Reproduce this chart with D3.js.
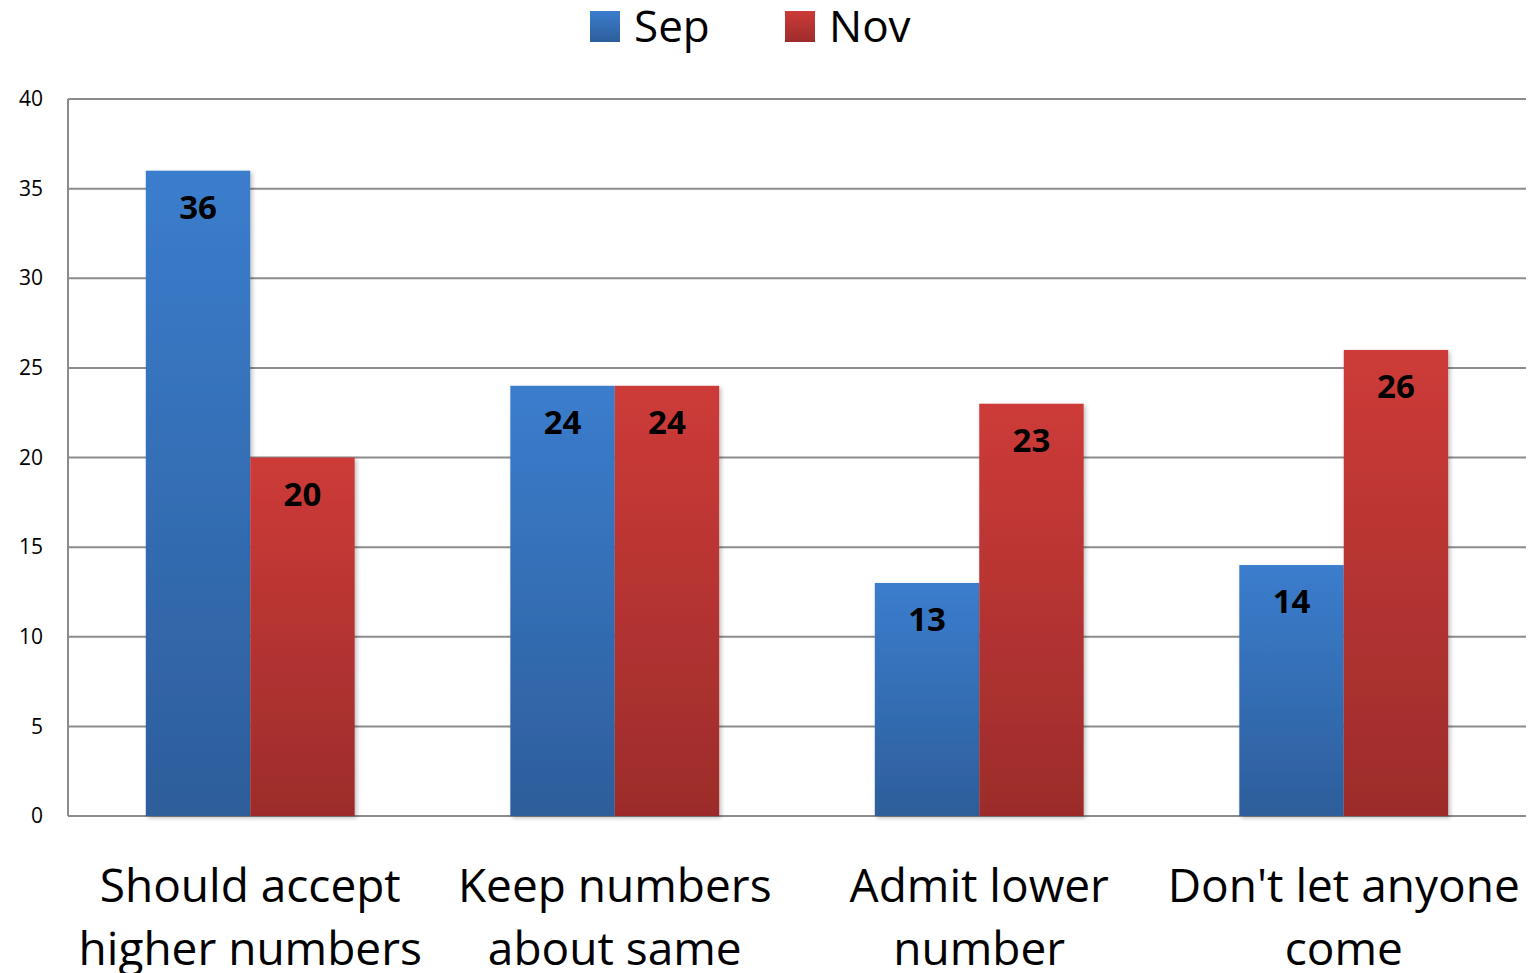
<!DOCTYPE html>
<html>
<head>
<meta charset="utf-8">
<script src="https://cdn.jsdelivr.net/npm/d3@7"></script>
<style>
  body { margin: 0; background: #fff; }
  svg { display: block; }
</style>
</head>
<body>
<div id="chart"></div>
<script>
// chart values
const categories = [["Should accept", "higher numbers"], ["Keep numbers", "about same"], ["Admit lower", "number"], ["Don't let anyone", "come"]];
const seriesNames = ["Sep", "Nov"];
const sepValues = [36, 24, 13, 14];
const novValues = [20, 24, 23, 26];
const yTicks = [0, 5, 10, 15, 20, 25, 30, 35, 40];

const width = 1536, height = 973;
const margin = {top: 99, right: 10, bottom: 157, left: 68};

const svg = d3.select("#chart").append("svg")
    .attr("width", width)
    .attr("height", height);

// gradients for the bars (lighter on top)
const defs = svg.append("defs");
const grads = [["gradSep", "#3b7dcd", "#2d5e9b"], ["gradNov", "#cd3b38", "#9c2c2b"]];
grads.forEach(function(g) {
    const lg = defs.append("linearGradient").attr("id", g[0])
        .attr("x1", 0).attr("y1", 0).attr("x2", 0).attr("y2", 1);
    lg.append("stop").attr("offset", "0%").attr("stop-color", g[1]);
    lg.append("stop").attr("offset", "100%").attr("stop-color", g[2]);
});
defs.append("filter").attr("id", "shadow")
    .attr("x", "-10%").attr("y", "-10%").attr("width", "130%").attr("height", "120%")
  .append("feDropShadow")
    .attr("dx", 2).attr("dy", 2).attr("stdDeviation", 2)
    .attr("flood-color", "#000").attr("flood-opacity", 0.25);

const x0 = d3.scaleBand()
    .domain(d3.range(categories.length))
    .range([margin.left, width - margin.right])
    .padding(0);

const groupW = x0.bandwidth() * 0.573;
const x1 = d3.scaleBand()
    .domain(seriesNames)
    .range([(x0.bandwidth() - groupW) / 2, (x0.bandwidth() + groupW) / 2])
    .padding(0);

const y = d3.scaleLinear()
    .domain([0, 40])
    .range([height - margin.bottom, margin.top]);

// gridlines
svg.append("g")
    .selectAll("line")
    .data(yTicks)
    .enter().append("line")
        .attr("x1", margin.left)
        .attr("x2", width - margin.right)
        .attr("y1", function(d) { return y(d); })
        .attr("y2", function(d) { return y(d); })
        .attr("stroke", "#8c8c8c")
        .attr("stroke-width", 2);

// left axis line
svg.append("line")
    .attr("x1", margin.left).attr("x2", margin.left)
    .attr("y1", y(40)).attr("y2", y(0))
    .attr("stroke", "#8c8c8c")
    .attr("stroke-width", 2);

// y tick labels
const yAxis = svg.append("g")
    .attr("transform", "translate(" + (margin.left - 25) + ",0)")
    .call(d3.axisLeft(y).tickValues(yTicks).tickSize(0).tickPadding(0));
yAxis.select(".domain").remove();
yAxis.selectAll("text")
    .attr("font-family", "'Open Sans', sans-serif")
    .attr("font-size", 21)
    .attr("fill", "#000");

// bars
const rows = categories.map(function(c, i) {
    return [{s: "Sep", v: sepValues[i], i: i}, {s: "Nov", v: novValues[i], i: i}];
});

const groups = svg.append("g")
    .selectAll("g")
    .data(rows)
    .enter().append("g")
        .attr("transform", function(d, i) { return "translate(" + x0(i) + ",0)"; });

groups.selectAll("rect")
    .data(function(d) { return d; })
    .enter().append("rect")
        .attr("x", function(d) { return x1(d.s); })
        .attr("y", function(d) { return y(d.v); })
        .attr("width", x1.bandwidth())
        .attr("height", function(d) { return y(0) - y(d.v); })
        .attr("fill", function(d) { return d.s == "Sep" ? "url(#gradSep)" : "url(#gradNov)"; })
        .attr("filter", "url(#shadow)");

groups.selectAll("text")
    .data(function(d) { return d; })
    .enter().append("text")
        .attr("x", function(d) { return x1(d.s) + x1.bandwidth() / 2; })
        .attr("y", function(d) { return y(d.v) + 48; })
        .attr("text-anchor", "middle")
        .attr("font-family", "'Open Sans', sans-serif")
        .attr("font-weight", "bold")
        .attr("font-size", 33)
        .attr("fill", "#000")
        .text(function(d) { return d.v; });

// category labels
const catLabels = svg.append("g")
    .selectAll("text")
    .data(categories)
    .enter().append("text")
        .attr("x", function(d, i) { return x0(i) + x0.bandwidth() / 2; })
        .attr("y", 902)
        .attr("text-anchor", "middle")
        .attr("font-family", "'Open Sans', sans-serif")
        .attr("font-size", 46)
        .attr("fill", "#000");
catLabels.selectAll("tspan")
    .data(function(d) { return d; })
    .enter().append("tspan")
        .attr("x", function() { return d3.select(this.parentNode).attr("x"); })
        .attr("dy", function(d, j) { return j == 0 ? 0 : 63; })
        .text(function(d) { return d; });

// legend
const legendX = [590, 785];
const legend = svg.append("g")
    .selectAll("g")
    .data(seriesNames)
    .enter().append("g")
        .attr("transform", function(d, i) { return "translate(" + legendX[i] + ",11)"; });
legend.append("rect")
    .attr("width", 30).attr("height", 31)
    .attr("fill", function(d) { return d == "Sep" ? "url(#gradSep)" : "url(#gradNov)"; });
legend.append("text")
    .attr("x", 44)
    .attr("y", 31)
    .attr("font-family", "'Open Sans', sans-serif")
    .attr("font-size", 44)
    .attr("fill", "#000")
    .text(function(d) { return d; });
</script>
</body>
</html>
